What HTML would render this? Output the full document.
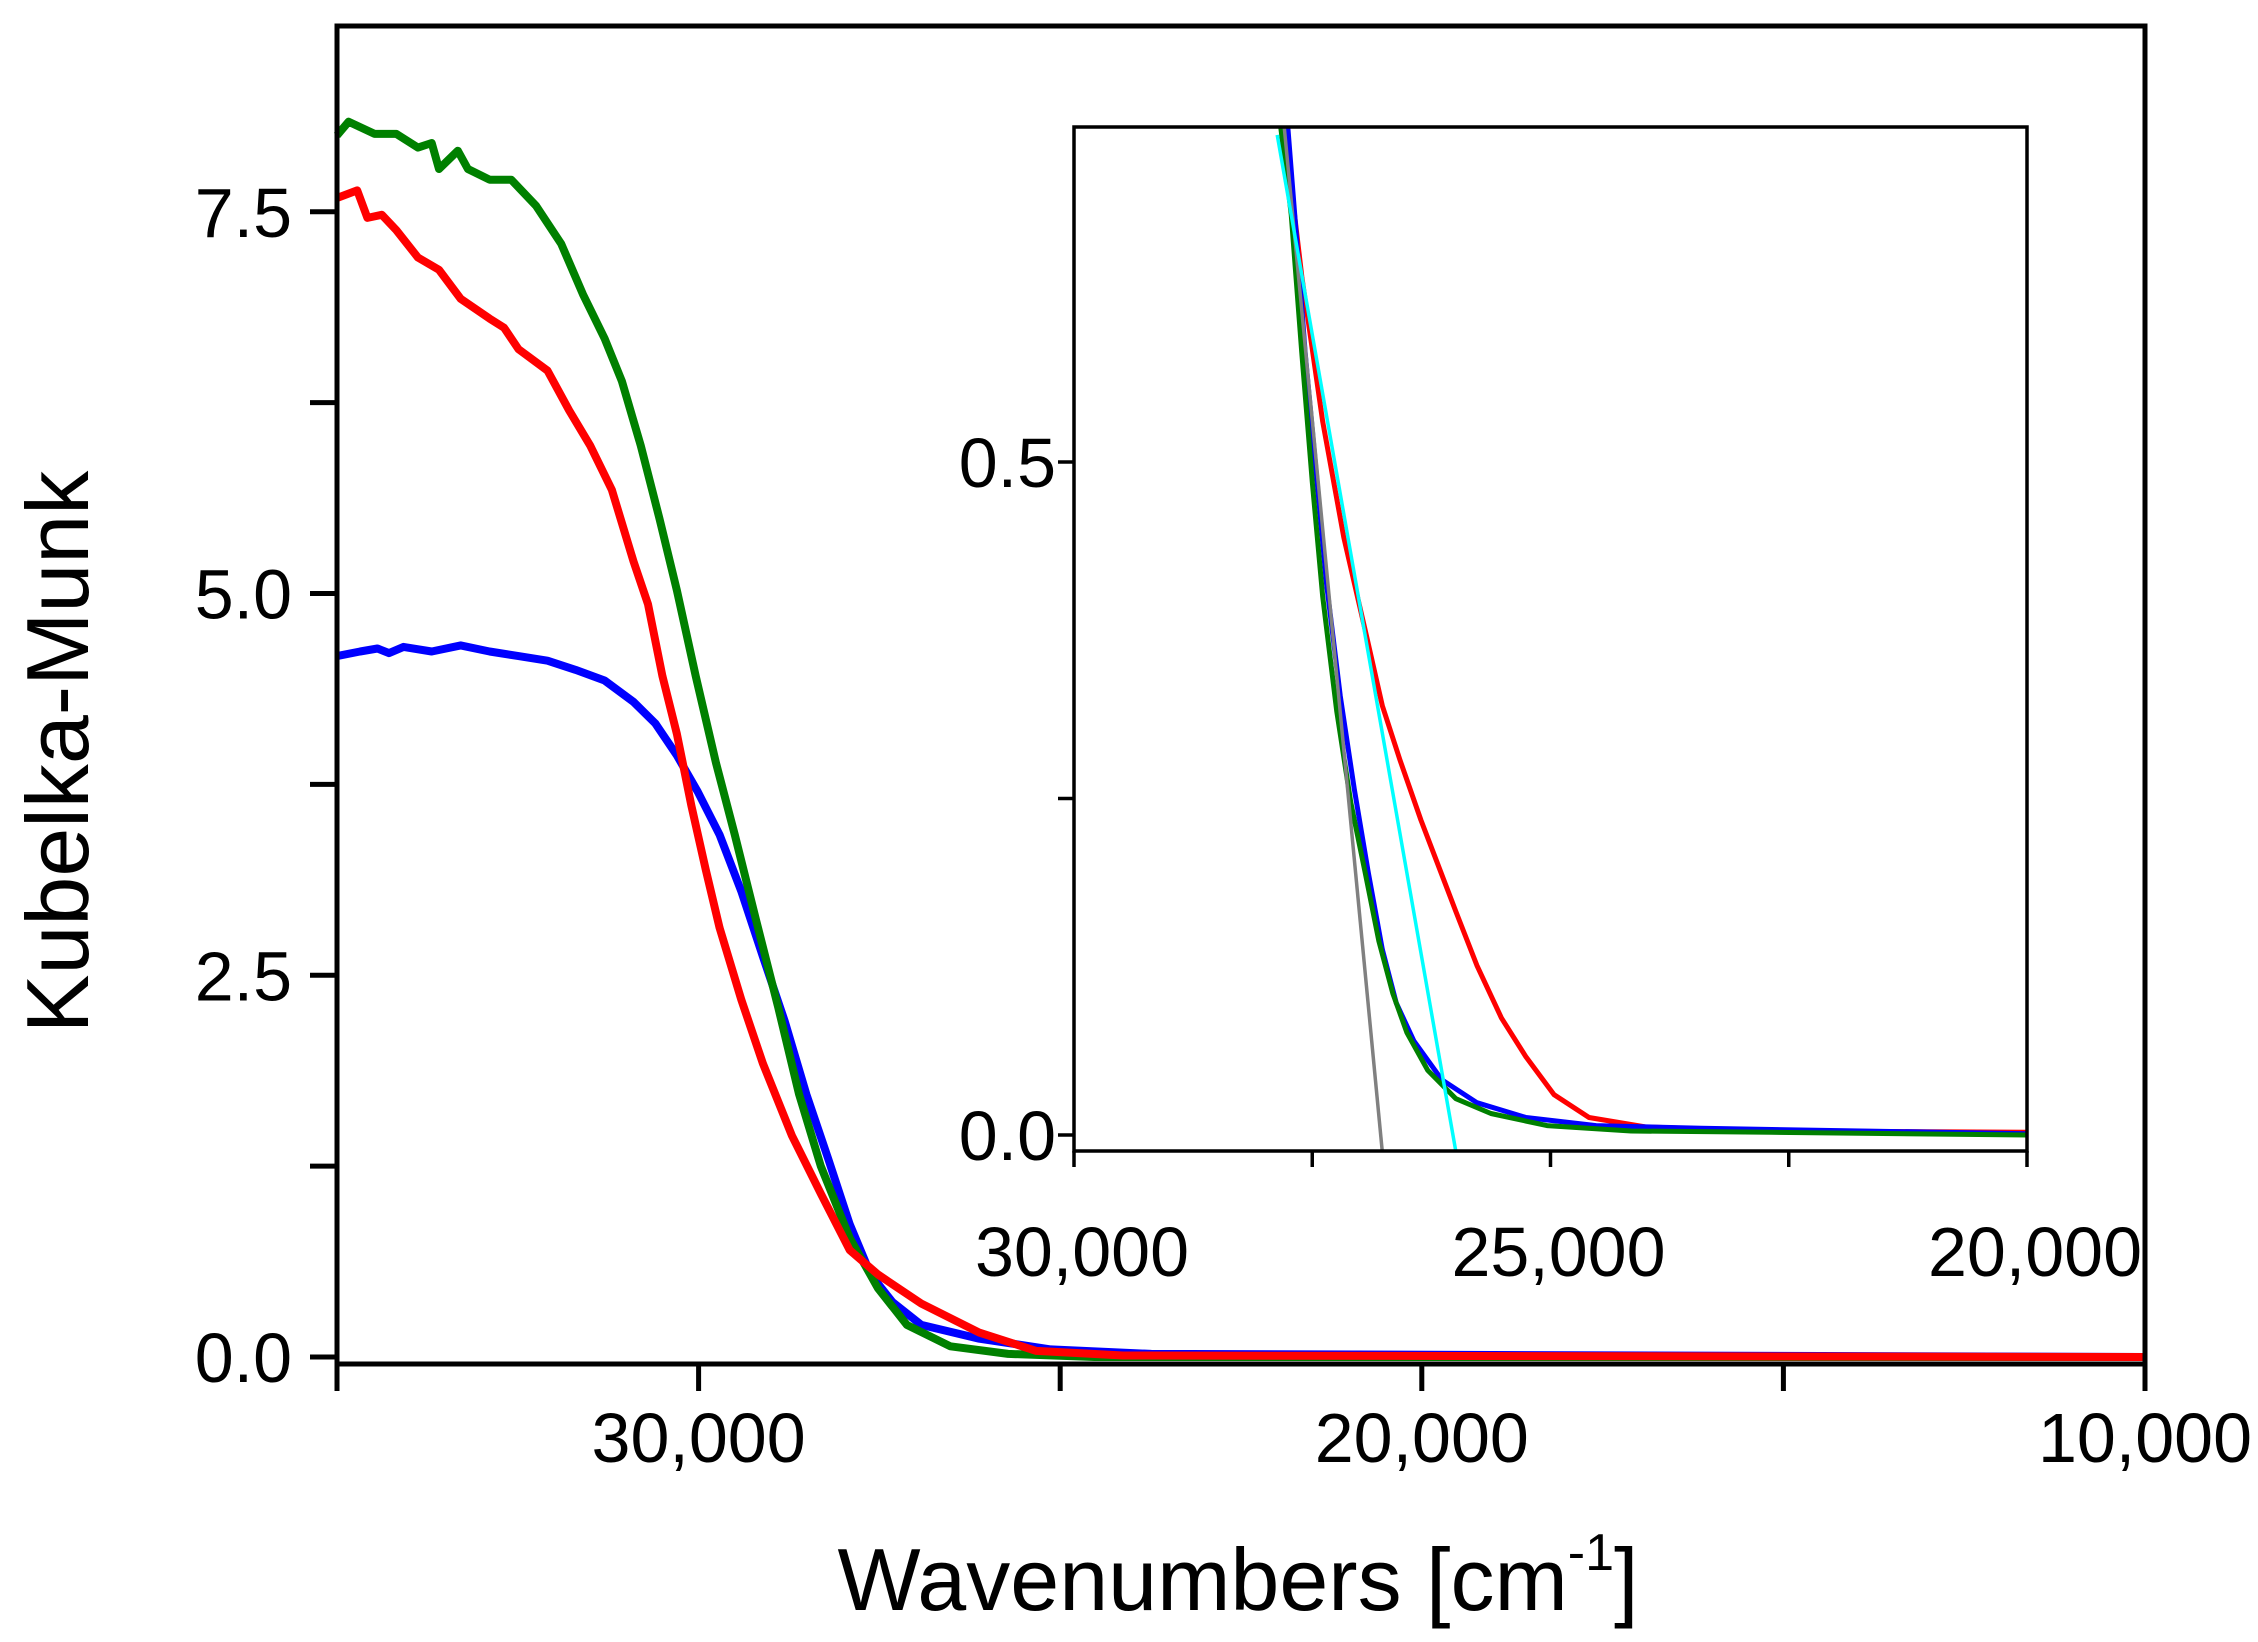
<!DOCTYPE html>
<html><head><meta charset="utf-8"><style>
html,body{margin:0;padding:0;background:#fff;}
svg{display:block;font-family:"Liberation Sans",Arial,sans-serif;}
</style></head><body>
<svg id="chart" width="2258" height="1642" viewBox="0 0 2258 1642" xmlns="http://www.w3.org/2000/svg">
<rect width="2258" height="1642" fill="#fff"/>
</svg>
<script>
// Main plot data (wavenumber cm-1, Kubelka-Munk)
const greenWn = [35000,34840,34480,34180,33880,33690,33590,33330,33190,32890,32590,32250,31900,31600,31300,31060,30800,30540,30300,30040,29760,29500,29200,28900,28610,28310,27910,27520,27120,26520,25720,24530,10000];
const greenVal = [8.0,8.09,8.01,8.01,7.92,7.95,7.78,7.90,7.78,7.71,7.71,7.54,7.29,6.96,6.67,6.39,5.97,5.49,5.02,4.46,3.89,3.42,2.85,2.29,1.72,1.25,0.78,0.45,0.21,0.07,0.02,0.0,0.0];
const redWn = [35000,34720,34580,34380,34180,33880,33590,33290,32890,32690,32490,32090,31790,31500,31200,30900,30700,30500,30300,30100,29900,29710,29410,29110,28710,28310,27910,27520,26920,26120,25330,24130,10000];
const redVal = [7.59,7.64,7.46,7.48,7.38,7.20,7.12,6.93,6.80,6.74,6.60,6.46,6.20,5.97,5.68,5.21,4.93,4.46,4.08,3.61,3.19,2.81,2.34,1.92,1.45,1.07,0.70,0.54,0.35,0.16,0.04,0.01,0.0];
const blueWn = [35000,34680,34440,34280,34080,33690,33290,32890,32490,32090,31700,31300,30900,30600,30300,30010,29710,29410,29110,28810,28510,28210,27910,27620,27320,26920,26120,25130,23740,10000];
const blueVal = [4.59,4.62,4.64,4.61,4.65,4.62,4.66,4.62,4.59,4.56,4.50,4.43,4.29,4.15,3.94,3.70,3.42,3.05,2.62,2.20,1.72,1.30,0.87,0.54,0.36,0.21,0.12,0.05,0.02,0.0];
const mainXTicks = [35000,30000,25000,20000,15000,10000];
const mainXLabels = ["30,000","20,000","10,000"];
const mainXLabelVals = [30000,20000,10000];
const mainYTicks = [0,1.25,2.5,3.75,5,6.25,7.5];
const mainYLabels = ["0.0","2.5","5.0","7.5"];
const mainYLabelVals = [0,2.5,5,7.5];
// Inset data
const inGreenWn = [27831,27721,27610,27500,27390,27243,27096,26948,26801,26654,26507,26287,25993,25625,25037,24154,22684,20000];
const inGreenVal = [0.749,0.684,0.581,0.485,0.400,0.315,0.247,0.196,0.144,0.105,0.076,0.048,0.027,0.016,0.007,0.003,0.002,0.0];
const inBlueWn = [27757,27684,27574,27463,27353,27206,27059,26912,26765,26618,26434,26140,25772,25257,24522,23419,20000];
const inBlueVal = [0.749,0.684,0.581,0.496,0.411,0.326,0.257,0.195,0.138,0.098,0.070,0.041,0.024,0.013,0.007,0.005,0.001];
const inRedWn = [27794,27610,27390,27169,26948,26765,26581,26360,26176,25993,25772,25515,25257,24963,24596,24007,22684,20000];
const inRedVal = [0.749,0.638,0.530,0.444,0.376,0.319,0.279,0.234,0.200,0.166,0.126,0.087,0.058,0.030,0.013,0.006,0.003,0.002];
const grayWn = [27794,26765];
const grayVal = [0.749,-0.0125];
const cyanWn = [27868,25993];
const cyanVal = [0.743,-0.0125];
const inXTicks = [30000,27500,25000,22500,20000];
const inXLabels = ["30,000","25,000","20,000"];
const inXLabelVals = [30000,25000,20000];
const inYTicks = [0,0.25,0.5];
const inYLabels = ["0.0","0.5"];
const inYLabelVals = [0,0.5];

const svg = document.getElementById('chart');
const NS = 'http://www.w3.org/2000/svg';
function mk(tag, attrs, parent){
  const e = document.createElementNS(NS, tag);
  for (const k in attrs) e.setAttribute(k, attrs[k]);
  (parent||svg).appendChild(e);
  return e;
}
const mx = v => 337 + (35000 - v) / 25000 * (2145 - 337);
const my = v => 1357 - v * 152.7;
const ix = v => 1074 + (30000 - v) / 10000 * (2027 - 1074);
const iy = v => 1135 - v * 1346;

function path(xs, ys, fx, fy, color, w, name, parent){
  let d = '';
  for (let i=0;i<xs.length;i++) d += (i?'L':'M') + fx(xs[i]).toFixed(1) + ',' + fy(ys[i]).toFixed(1);
  const p = mk('path', {d:d, fill:'none', stroke:color, 'stroke-width':w, 'stroke-linejoin':'round', 'stroke-linecap':'butt'}, parent);
  
  
  return p;
}

const mainG = mk('g', {});


path(blueWn, blueVal, mx, my, '#0000ff', 8, 'blue-series', mainG);
path(greenWn, greenVal, mx, my, '#008000', 8, 'green-series', mainG);
path(redWn, redVal, mx, my, '#ff0000', 8, 'red-series', mainG);

const frame = mk('rect', {x:337, y:26, width:1808, height:1338, fill:'none', stroke:'#000', 'stroke-width':5});



mainXTicks.forEach(v => {
  const t = mk('line', {x1:mx(v), x2:mx(v), y1:1364, y2:1391, stroke:'#000', 'stroke-width':5});
  
  
});
mainXLabels.forEach((s,i) => {
  const t = mk('text', {x:mx(mainXLabelVals[i]), y:1462, 'font-size':70, 'text-anchor':'middle', fill:'#000'});
  t.textContent = s;
  
  
});
mainYTicks.forEach(v => {
  const t = mk('line', {x1:310, x2:337, y1:my(v), y2:my(v), stroke:'#000', 'stroke-width':5});
  
  
});
mainYLabels.forEach((s,i) => {
  const t = mk('text', {x:292, y:my(mainYLabelVals[i]) + 25, 'font-size':70, 'text-anchor':'end', fill:'#000'});
  t.textContent = s;
  
  
});

const insetG = mk('g', {});


mk('rect', {x:1074, y:127, width:953, height:1024, fill:'#fff', stroke:'none'}, insetG);
path(inRedWn, inRedVal, ix, iy, '#ff0000', 5, 'inset-red-series', insetG);
path(inBlueWn, inBlueVal, ix, iy, '#0000ff', 5, 'inset-blue-series', insetG);
path(inGreenWn, inGreenVal, ix, iy, '#008000', 5, 'inset-green-series', insetG);
path(grayWn, grayVal, ix, iy, '#808080', 3.5, 'gray-fit-line', insetG);
path(cyanWn, cyanVal, ix, iy, '#00ffff', 3.5, 'cyan-fit-line', insetG);
const iframe = mk('rect', {x:1074, y:127, width:953, height:1024, fill:'none', stroke:'#000', 'stroke-width':3.5}, insetG);


inXTicks.forEach(v => {
  const t = mk('line', {x1:ix(v), x2:ix(v), y1:1151, y2:1167, stroke:'#000', 'stroke-width':3.5}, insetG);
  
  
});
inXLabels.forEach((s,i) => {
  const t = mk('text', {x:ix(inXLabelVals[i]) + 8, y:1276, 'font-size':70, 'text-anchor':'middle', fill:'#000'}, insetG);
  t.textContent = s;
  
  
});
inYTicks.forEach(v => {
  const t = mk('line', {x1:1058, x2:1074, y1:iy(v), y2:iy(v), stroke:'#000', 'stroke-width':3.5}, insetG);
  
  
});
inYLabels.forEach((s,i) => {
  const t = mk('text', {x:1056, y:iy(inYLabelVals[i]) + 25, 'font-size':70, 'text-anchor':'end', fill:'#000'}, insetG);
  t.textContent = s;
  
  
});

const xt = mk('text', {x:1238, y:1610, 'font-size':88, 'text-anchor':'middle', fill:'#000'});


xt.innerHTML = 'Wavenumbers [cm<tspan dy="-40" font-size="52">-1</tspan><tspan dy="40">]</tspan>';
const yt = mk('text', {x:0, y:0, 'font-size':88, 'text-anchor':'middle', fill:'#000', transform:'translate(88,752) rotate(-90)'});
yt.textContent = 'Kubelka-Munk';


</script>
</body></html>
